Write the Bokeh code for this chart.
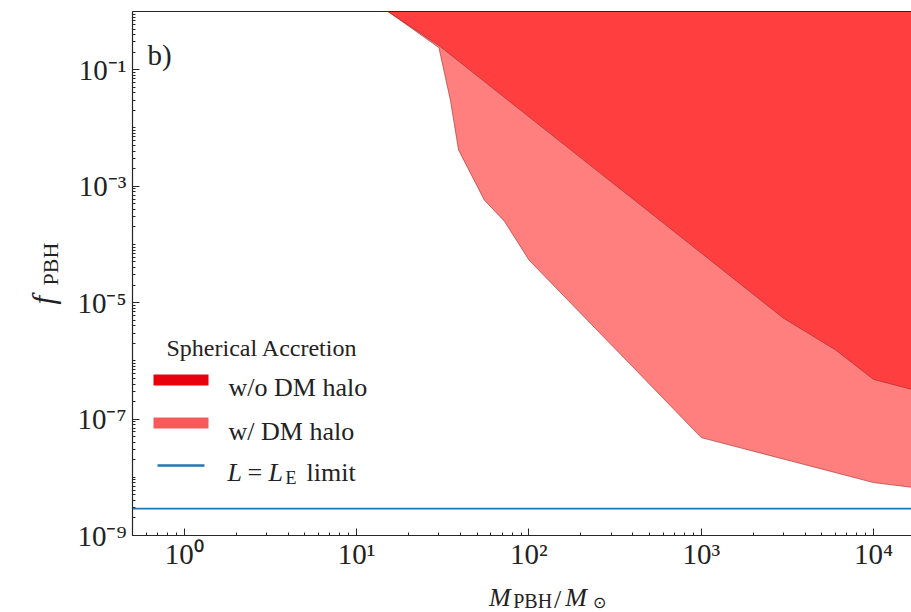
import math
from bokeh.plotting import figure
from bokeh.layouts import row, column
from bokeh.models import (FixedTicker, CustomJSTickFormatter, Label, BoxAnnotation,
                          Span, LogAxis)
from bokeh.core.properties import value
from bokeh.embed import file_html
from bokeh.resources import INLINE

# ---------------- data ----------------
# upper region: spherical accretion without DM halo (lower boundary of excluded region)
mass_nohalo = [15.2, 30, 100, 1000, 3000, 6000, 10000, 20000]
f_nohalo = [1.0, 0.26, 1.55e-2, 7.1e-5, 5.4e-6, 1.55e-6, 4.8e-7, 2.8e-7]

# lower region: spherical accretion with DM halo
mass_halo = [15.2, 30, 35, 39, 44, 55, 72, 100, 190, 400, 1000, 10000, 20000]
f_halo = [1.0, 0.24, 3.0e-2, 4.2e-3, 2.1e-3, 5.8e-4, 2.5e-4, 5.4e-5, 7.6e-6,
          7.9e-7, 4.8e-8, 8.1e-9, 6.3e-9]

# Eddington luminosity limit
f_LE_limit = 2.9e-9

# axis settings
x_limits = (0.5, 1.66e4)
y_limits = (1e-9, 1.0)
x_major_ticks = [1e0, 1e1, 1e2, 1e3, 1e4]
y_major_ticks = [1e-9, 1e-7, 1e-5, 1e-3, 1e-1]
x_decades = list(range(-1, 5))
y_decades = list(range(-9, 1))

legend_title = "Spherical Accretion"
legend_labels = ["w/o DM halo", "w/ DM halo"]
panel_tag = "b)"

SERIF = "Liberation Serif"
AX = "#262626"
TXT = "#222222"

W, H = 911, 612
YLAB_W = 72          # width of the strip holding the rotated y label
XLAB_H = 40          # height of the strip holding the x label
MAIN_W, MAIN_H = W - YLAB_W, H - XLAB_H
FRAME_LEFT, FRAME_BOTTOM = 132, 536   # frame position on the page

# ---------------- main figure ----------------
p = figure(width=MAIN_W, height=MAIN_H, x_axis_type="log", y_axis_type="log",
           x_range=x_limits, y_range=y_limits, output_backend="svg",
           toolbar_location=None, min_border_left=FRAME_LEFT - YLAB_W,
           min_border_right=0, min_border_top=11,
           min_border_bottom=MAIN_H - FRAME_BOTTOM)
p.grid.visible = False
p.outline_line_color = None
p.background_fill_color = "white"
p.border_fill_color = "white"

y_top = [y_limits[1]] * len(mass_halo)
p.varea(x=mass_halo, y1=f_halo, y2=y_top, fill_color="red", fill_alpha=0.5)
p.line(x=mass_halo, y=f_halo, line_color="#9a2a2a", line_width=1, line_alpha=0.6)
y_top2 = [y_limits[1]] * len(mass_nohalo)
p.varea(x=mass_nohalo, y1=f_nohalo, y2=y_top2, fill_color="red", fill_alpha=0.5)
p.line(x=mass_nohalo, y=f_nohalo, line_color="#9a2a2a", line_width=1, line_alpha=0.6)

p.add_layout(Span(location=f_LE_limit, dimension="width", line_color="#1f77b4",
                  line_width=1.6))

fmt = CustomJSTickFormatter(code="""
const sup = {"-":"\u207b","0":"\u2070","1":"\u00b9","2":"\u00b2","3":"\u00b3",
             "4":"\u2074","5":"\u2075","6":"\u2076","7":"\u2077","8":"\u2078","9":"\u2079"};
const e = Math.round(Math.log10(tick));
return "10" + String(e).split("").map(c => sup[c]).join("");
""")

x_minor = [k * 10.0 ** n for n in x_decades for k in range(1, 10)]
y_minor = [k * 10.0 ** n for n in y_decades for k in range(1, 10)]

for ax, major, minor in ((p.xaxis[0], x_major_ticks, x_minor),
                         (p.yaxis[0], y_major_ticks, y_minor)):
    ax.ticker = FixedTicker(ticks=major, minor_ticks=minor)
    ax.formatter = fmt
    ax.major_tick_in = 7
    ax.major_tick_out = 0
    ax.minor_tick_in = 3
    ax.minor_tick_out = 0
    ax.axis_line_color = AX
    ax.axis_line_width = 1.2
    ax.major_tick_line_color = AX
    ax.minor_tick_line_color = AX
    ax.major_label_text_font = SERIF
    ax.major_label_text_font_size = "29px"
    ax.major_label_text_color = TXT
p.xaxis.major_label_standoff = 2
p.yaxis.major_label_standoff = 6

top_axis = LogAxis(ticker=FixedTicker(ticks=[]), axis_line_color=AX,
                   axis_line_width=1.2, major_label_text_font_size="0px",
                   major_tick_in=0, major_tick_out=0, minor_tick_in=0,
                   minor_tick_out=0, major_label_standoff=0)
p.add_layout(top_axis, "above")


# text inside the frame: screen units relative to the frame
def lab(text, cx, cy, size, style="normal"):
    p.add_layout(Label(x=cx - FRAME_LEFT, y=FRAME_BOTTOM - cy, x_units="screen",
                       y_units="screen", text=text, text_font=SERIF,
                       text_font_size=f"{size}px", text_font_style=style,
                       text_color=TXT, text_align="left",
                       text_baseline="alphabetic"))


lab(panel_tag, 147, 55, 29)

# legend (title, swatches, labels)
lab(legend_title, 166, 348, 24)


def swatch(l, r, top, bottom, color):
    p.add_layout(BoxAnnotation(left=l - FRAME_LEFT, right=r - FRAME_LEFT,
                               bottom=FRAME_BOTTOM - bottom, top=FRAME_BOTTOM - top,
                               left_units="screen", right_units="screen",
                               top_units="screen", bottom_units="screen",
                               fill_color=color, fill_alpha=1.0, line_color=None))


swatch(153, 208, 375, 386, "#e8000c")
swatch(153, 208, 418, 429, "#f85a5a")
swatch(157, 204, 464.8, 467.2, "#1f77b4")

lab(legend_labels[0], 228, 388, 26)
lab(legend_labels[1], 228, 432, 26)
lab("L", 227, 473, 26, "italic")
lab("=", 247, 473, 26)
lab("L", 268, 473, 26, "italic")
lab("E", 285, 478, 18)
lab("limit", 306, 473, 26)

# ---------------- y-label strip ----------------
ylab = figure(width=YLAB_W, height=H, x_range=(0, YLAB_W), y_range=(0, H),
              output_backend="svg", toolbar_location=None,
              x_axis_location=None, y_axis_location=None, min_border=0)
ylab.outline_line_color = None
ylab.grid.visible = False
ylab.text(x=[43], y=[H - 304], text=["f"], angle=math.pi / 2,
          text_font=value(SERIF), text_font_size=value("31px"),
          text_font_style=value("italic"), text_color=TXT,
          text_align="left", text_baseline="alphabetic")
ylab.text(x=[50], y=[H - 285], text=["PBH"], angle=math.pi / 2,
          text_font=value(SERIF), text_font_size=value("22px"), text_color=TXT,
          text_align="left", text_baseline="alphabetic")

# ---------------- x-label strip ----------------
xlab = figure(width=MAIN_W, height=XLAB_H, x_range=(YLAB_W, W), y_range=(0, XLAB_H),
              output_backend="svg", toolbar_location=None,
              x_axis_location=None, y_axis_location=None, min_border=0)
xlab.outline_line_color = None
xlab.grid.visible = False
parts = [("M", 456, 597, "26px", "italic"),
         ("PBH", 482, 600, "20px", "normal"),
         ("/", 526, 599, "26px", "normal"),
         ("M", 538, 597, "26px", "italic"),
         ("\u2299", 568, 602, "16px", "normal")]
for t, cx, cy, fs, st in parts:
    xlab.text(x=[cx], y=[H - cy], text=[t], text_font=value(SERIF),
              text_font_size=value(fs), text_font_style=value(st),
              text_color=TXT, text_align="left", text_baseline="alphabetic")

layout = row(ylab, column(p, xlab))
open("out.html", "w").write(file_html(layout, INLINE))
